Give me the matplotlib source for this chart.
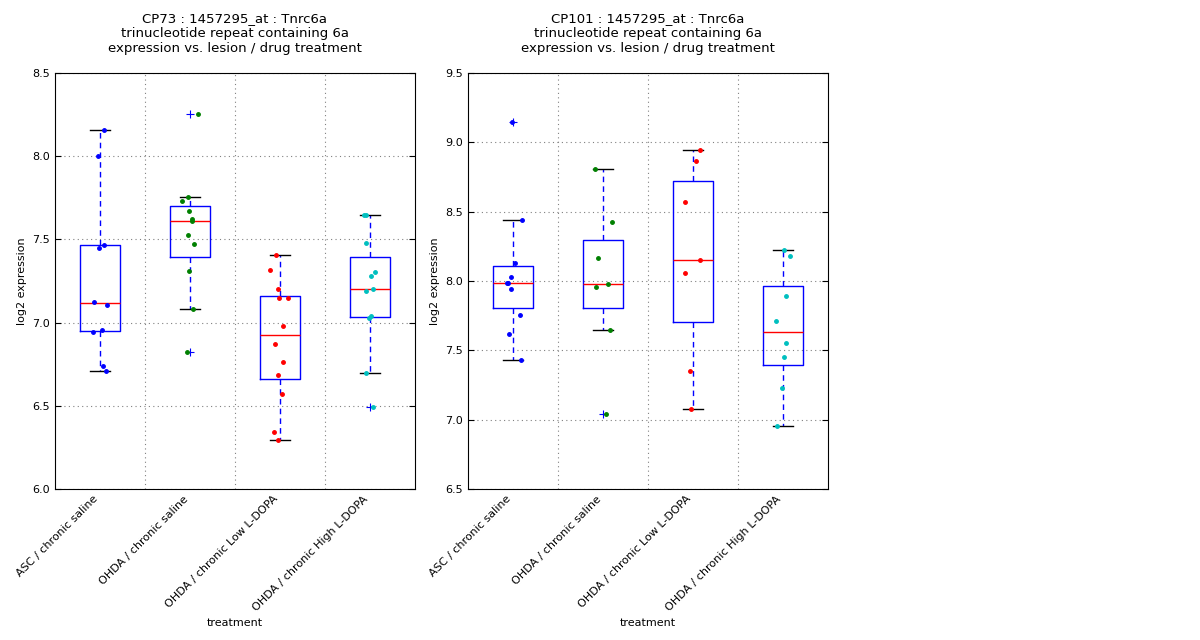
import numpy as np
import matplotlib
matplotlib.use("Agg")
import matplotlib.pyplot as plt

groups = ["ASC / chronic saline", "OHDA / chronic saline",
          "OHDA / chronic Low L-DOPA", "OHDA / chronic High L-DOPA"]
point_colors = ["b", "g", "r", "c"]

# CP73 values (log2 expression) per group
cp73_asc = [8.157, 8.0, 7.468, 7.45, 7.126, 7.108, 6.957, 6.945, 6.741, 6.709]
cp73_sal = [8.255, 7.757, 7.733, 7.673, 7.624, 7.612, 7.528, 7.474, 7.312, 7.084, 6.823]
cp73_low = [7.408, 7.316, 7.202, 7.148, 7.148, 6.981, 6.873, 6.765, 6.687, 6.573, 6.344, 6.296]
cp73_high = [7.648, 7.648, 7.48, 7.306, 7.282, 7.2, 7.192, 7.042, 7.026, 6.699, 6.493]

# jitter (category units)
cp73_asc_jit = [0.046, -0.025, 0.042, -0.013, -0.066, 0.079, 0.023, -0.077, 0.035, 0.068]
cp73_sal_jit = [0.085, -0.027, -0.094, -0.016, 0.018, 0.018, -0.027, 0.040, -0.016, 0.029, -0.038]
cp73_low_jit = [-0.041, -0.108, -0.019, -0.008, 0.092, 0.037, -0.052, 0.037, -0.019, 0.026, -0.064, -0.019]
cp73_high_jit = [-0.067, -0.045, -0.045, 0.051, 0.007, 0.029, -0.049, 0.007, -0.012, -0.049, 0.029]

# CP101 values
cp101_asc = [9.147, 8.442, 8.132, 8.031, 7.988, 7.988, 7.942, 7.757, 7.62, 7.432]
cp101_sal = [8.808, 8.426, 8.168, 7.98, 7.957, 7.647, 7.041]
cp101_low = [8.945, 8.868, 8.572, 8.149, 8.058, 7.353, 7.077]
cp101_high = [8.224, 8.18, 7.894, 7.713, 7.554, 7.453, 7.23, 6.954]

cp101_asc_jit = [-0.007, 0.097, 0.019, -0.018, -0.070, -0.060, -0.018, 0.082, -0.040, 0.086]
cp101_sal_jit = [-0.092, 0.097, -0.059, 0.052, -0.081, 0.075, 0.030]
cp101_low_jit = [0.075, 0.030, -0.092, 0.082, -0.092, -0.029, -0.018]
cp101_high_jit = [0.008, 0.075, 0.038, -0.081, 0.038, 0.008, -0.007, -0.070]

panels = [
    ("CP73", [cp73_asc, cp73_sal, cp73_low, cp73_high],
     [cp73_asc_jit, cp73_sal_jit, cp73_low_jit, cp73_high_jit], (6.0, 8.5),
     [6.0, 6.5, 7.0, 7.5, 8.0, 8.5]),
    ("CP101", [cp101_asc, cp101_sal, cp101_low, cp101_high],
     [cp101_asc_jit, cp101_sal_jit, cp101_low_jit, cp101_high_jit], (6.5, 9.5),
     [6.5, 7.0, 7.5, 8.0, 8.5, 9.0, 9.5]),
]

plt.rcParams['font.family'] = 'DejaVu Sans'
fig = plt.figure(figsize=(12, 6.4), dpi=100)
lefts = [55 / 1200, 468 / 1200]

for left, (name, data, jit, ylim, yticks) in zip(lefts, panels):
    ax = fig.add_axes([left, 151 / 640, 360 / 1200, 416 / 640])
    pos = np.arange(1, len(groups) + 1)
    ax.boxplot(data, positions=pos, widths=0.45, whis=1.5,
               boxprops=dict(color='b', linewidth=1),
               medianprops=dict(color='r', linewidth=1),
               whiskerprops=dict(color='b', linestyle=(0, (4, 3)), linewidth=1),
               capprops=dict(color='k', linewidth=1),
               flierprops=dict(marker='+', markeredgecolor='b', markersize=6,
                               markeredgewidth=0.8, linestyle='none'))
    for i, (vals, jj) in enumerate(zip(data, jit)):
        ax.plot(pos[i] + np.array(jj), vals, '.', color=point_colors[i],
                markersize=5, zorder=3)
    ax.set_xlim(0.5, 4.5)
    ax.set_ylim(*ylim)
    ax.set_yticks(yticks)
    ax.set_yticklabels(["%.1f" % t for t in yticks], fontsize=8)
    ax.set_xticks(pos)
    ax.set_xticklabels(groups, rotation=45, ha='right', fontsize=8)
    ax.set_xticks(pos[:-1] + 0.5, minor=True)
    ax.tick_params(axis='x', which='both', length=0)
    ax.tick_params(axis='y', direction='in', right=True, length=4)
    ax.grid(True, axis='y', color='gray', linestyle=(0, (1, 3)), linewidth=0.8)
    ax.grid(True, axis='x', which='minor', color='gray', linestyle=(0, (1, 3)), linewidth=0.8)
    ax.set_axisbelow(True)
    ax.set_ylabel("log2 expression", fontsize=8)
    ax.set_xlabel("treatment", fontsize=8)
    ax.set_title("%s : 1457295_at : Tnrc6a\ntrinucleotide repeat containing 6a\n"
                 "expression vs. lesion / drug treatment" % name, fontsize=9.5, pad=15)

fig.savefig("out.png", dpi=100)
